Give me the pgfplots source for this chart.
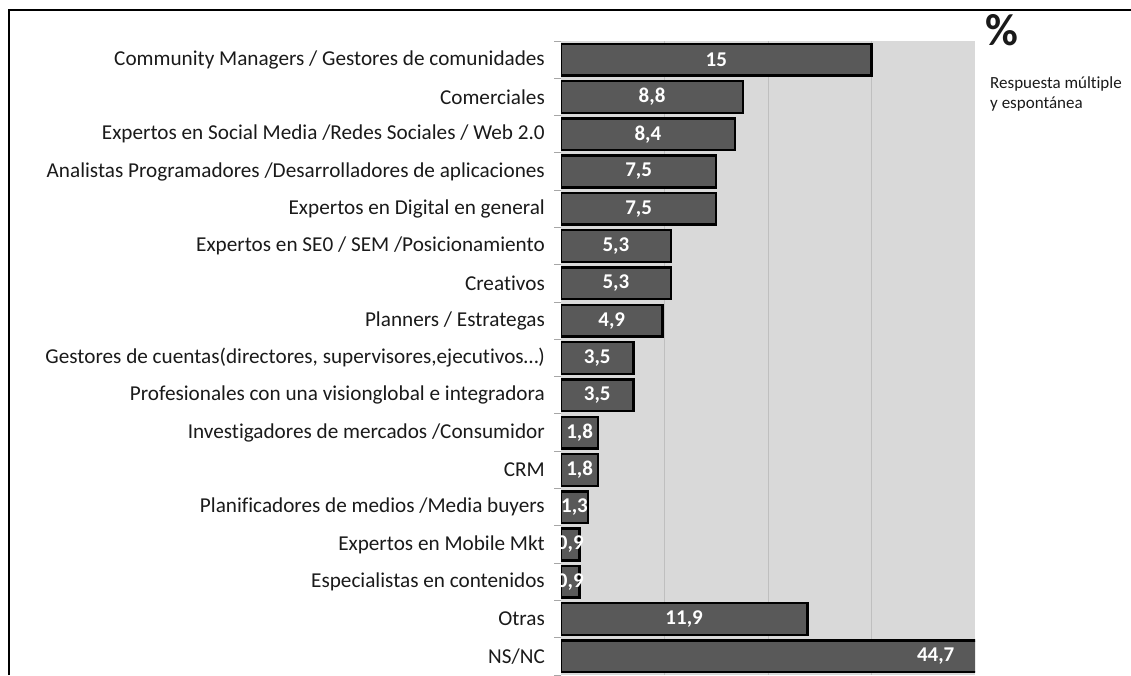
\documentclass[border=0pt]{standalone}
\usepackage{pgfplots}
\pgfplotsset{compat=1.18}
\usepackage{pgfplotstable}
\usepackage{fontspec}
\setmainfont{Carlito}[Ligatures={NoCommon}]
\definecolor{bgray}{HTML}{D9D9D9}
\definecolor{bargray}{HTML}{595959}
\definecolor{gridgray}{HTML}{BFBFBF}
\definecolor{tickgray}{HTML}{A6A6A6}
\definecolor{txtgray}{HTML}{1A1A1A}

\pgfplotstableread{
y val
0 15
1 8.8
2 8.4
3 7.5
4 7.5
5 5.3
6 5.3
7 4.9
8 3.5
9 3.5
10 1.8
11 1.8
12 1.3
13 0.9
14 0.9
15 11.9
16 44.7
}\bardata

\pgfplotstableread{
y pos label
0 7.5 15
1 4.4 8,8
2 4.2 8,4
3 3.75 7,5
4 3.75 7,5
5 2.65 5,3
6 2.65 5,3
7 2.45 4,9
8 1.75 3,5
9 1.75 3,5
10 0.9 1,8
11 0.9 1,8
12 0.65 1,3
13 0.45 0,9
14 0.45 0,9
15 5.95 11,9
16 18.1 44,7
}\labdata

\begin{document}
\begin{tikzpicture}[x=1pt,y=1pt]
\useasboundingbox (0,0) rectangle (1131,675);
\begin{axis}[
  at={(561pt,0pt)}, anchor=south west,
  width=414pt, height=634pt, scale only axis,
  xmin=0, xmax=20, ymin=-0.5, ymax=16.5,
  y dir=reverse,
  axis background/.style={fill=bgray},
  axis line style={draw=none},
  xtick={5,10,15}, xticklabels={},
  x tick style={draw=none},
  xmajorgrids, grid style={gridgray, line width=0.8pt},
  ytick={0,...,16},
  yticklabels={
    Community Managers / Gestores de comunidades,
    Comerciales,
    Expertos en Social Media /Redes Sociales / Web 2.0,
    Analistas Programadores /Desarrolladores de aplicaciones,
    Expertos en Digital en general,
    Expertos en SE0 / SEM /Posicionamiento,
    Creativos,
    Planners / Estrategas,
    {Gestores de cuentas(directores, supervisores,ejecutivos\ldots)},
    Profesionales con una visionglobal e integradora,
    Investigadores de mercados /Consumidor,
    CRM,
    Planificadores de medios /Media buyers,
    Expertos en Mobile Mkt,
    Especialistas en contenidos,
    Otras,
    NS/NC},
  ytick pos=left,
  y tick style={draw=none},
  yticklabel style={font=\fontsize{21.2}{25}\selectfont, text=txtgray, inner sep=0pt, xshift=-16pt},
  clip mode=individual,
]
\addplot[xbar, bar width=0.85, fill=bargray, draw=black, line width=2.4pt]
  table[x=val, y=y] {\bardata};
\addplot[draw=none, mark=none, nodes near coords, point meta=explicit symbolic,
  nodes near coords style={anchor=center, text=white, font=\bfseries\fontsize{21}{25}\selectfont}]
  table[x=pos, y=y, meta=label] {\labdata};
\pgfplotsinvokeforeach{-0.5,0.5,1.5,2.5,3.5,4.5,5.5,6.5,7.5,8.5,9.5,10.5,11.5,12.5,13.5,14.5,15.5,16.5}{
  \draw[tickgray, line width=1pt] (axis cs:0,#1) -- ++(-7pt,0pt);
}
\end{axis}
\draw[line width=2.5pt] (9,0) -- (9,665) -- (1131,665);
\node[anchor=north west, inner sep=0pt, font=\bfseries\fontsize{45}{45}\selectfont, text=txtgray] at (985,661) {\%};
\node[anchor=north west, inner sep=0pt, align=left, font=\fontsize{17}{20}\selectfont, text=txtgray] at (990,598) {Respuesta múltiple\\y espontánea};
\end{tikzpicture}
\end{document}
